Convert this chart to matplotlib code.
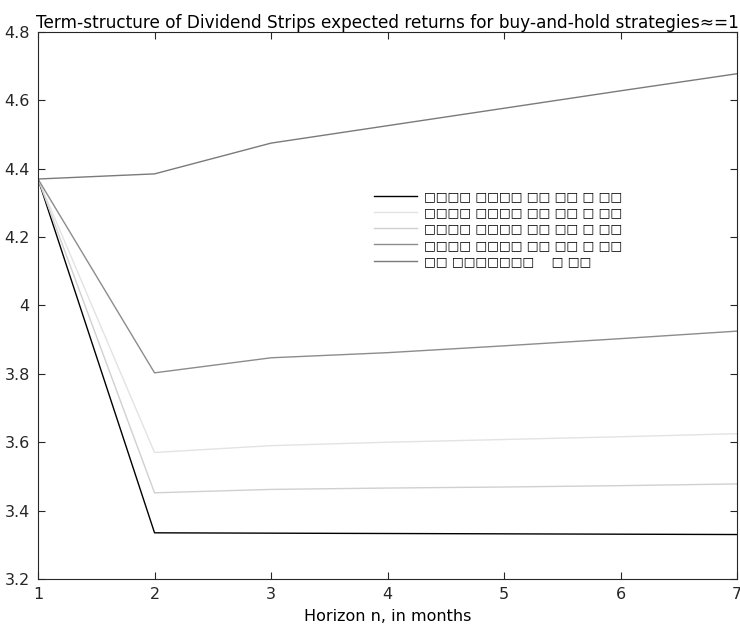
import matplotlib
matplotlib.use("Agg")
from matplotlib import pyplot as plt
from matplotlib.ticker import FormatStrFormatter

horizon = [1, 2, 3, 4, 5, 6, 7]

ret_a = [4.37, 3.335, 3.334, 3.333, 3.332, 3.331, 3.330]
ret_b = [4.37, 3.570, 3.590, 3.600, 3.608, 3.616, 3.625]
ret_c = [4.37, 3.452, 3.462, 3.466, 3.469, 3.473, 3.478]
ret_d = [4.37, 3.803, 3.847, 3.862, 3.882, 3.903, 3.925]
ret_e = [4.37, 4.385, 4.475, 4.526, 4.577, 4.628, 4.678]

labels = ["□□□□ □□□□ □□ □□ □ □□"] * 4 + ["□□ □□□□□□□    □ □□"]

fig = plt.figure(figsize=(7.4, 6.34), dpi=100)
ax = fig.add_axes([0.0514, 0.0868, 0.9446, 0.8627])

ax.plot(horizon, ret_a, color="black", lw=1.0, label=labels[0])
ax.plot(horizon, ret_b, color="#e3e3e3", lw=1.0, label=labels[1])
ax.plot(horizon, ret_c, color="#d0d0d0", lw=1.0, label=labels[2])
ax.plot(horizon, ret_d, color="#8c8c8c", lw=1.0, label=labels[3])
ax.plot(horizon, ret_e, color="#7a7a7a", lw=1.0, label=labels[4])

ax.set_xlim(1, 7)
ax.set_ylim(3.2, 4.8)
ax.set_xticks(horizon)
ax.yaxis.set_major_formatter(FormatStrFormatter("%g"))
ax.tick_params(direction="in", top=True, right=True, labelsize=11.5,
               colors="#262626", length=5, pad=6)
for s in ax.spines.values():
    s.set_color("#262626")

ax.set_xlabel("Horizon n, in months", fontsize=11.5, labelpad=5)
ax.set_title("Term-structure of Dividend Strips expected returns for buy-and-hold strategies≈=1",
             fontsize=12.2, pad=3)

ax.legend(loc="upper left", bbox_to_anchor=(0.465, 0.731), frameon=False,
          handlelength=3.4, labelspacing=0.25, handletextpad=0.6,
          prop={"weight": "bold", "size": 9})

fig.savefig("out.png", dpi=100)
